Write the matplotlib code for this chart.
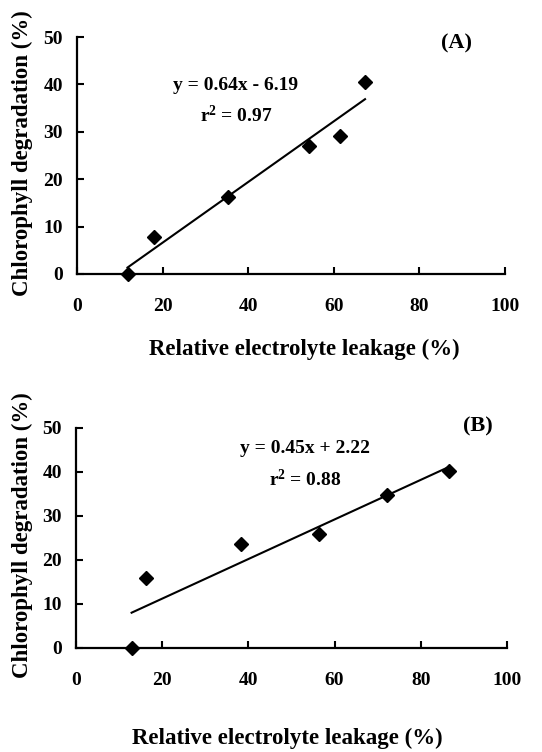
import matplotlib
matplotlib.use("Agg")
import matplotlib.pyplot as plt
import numpy as np

plt.rcParams['font.family'] = ['Liberation Serif', 'DejaVu Serif']
plt.rcParams['font.weight'] = 'bold'
plt.rcParams['mathtext.fontset'] = 'custom'
plt.rcParams['mathtext.rm'] = 'Liberation Serif:bold'
plt.rcParams['mathtext.bf'] = 'Liberation Serif:bold'
plt.rcParams['mathtext.it'] = 'Liberation Serif:bold'

# Panel A data
xa = [11.8, 18.1, 35.2, 54.3, 61.4, 67.3]
ya = [0.0, 7.8, 16.3, 27.0, 29.2, 40.6]
slope_a, icpt_a = 0.64, -6.19
eq_a = "y = 0.64x - 6.19"
r2_a = "r$^{\\mathbf{2}}$ = 0.97"

# Panel B data
xb = [12.9, 16.2, 38.2, 56.4, 72.1, 86.6]
yb = [0.0, 15.8, 23.6, 26.0, 34.8, 40.3]
slope_b, icpt_b = 0.45, 2.22
eq_b = "y = 0.45x + 2.22"
r2_b = "r$^{\\mathbf{2}}$ = 0.88"

xticks = [0, 20, 40, 60, 80, 100]
yticks = [0, 10, 20, 30, 40, 50]
xlabel = "Relative electrolyte leakage (%)"
ylabel = "Chlorophyll degradation (%)"

W, H = 542, 752
fig = plt.figure(figsize=(W / 100, H / 100), dpi=100)

def px_axes(l, r, t, b):
    return fig.add_axes([l / W, 1 - b / H, (r - l) / W, (b - t) / H])

def style(ax):
    ax.set_xlim(0, 100)
    ax.set_ylim(0, 50)
    ax.set_xticks(xticks)
    ax.set_yticks(yticks)
    for s in ['top', 'right']:
        ax.spines[s].set_visible(False)
    for s in ['left', 'bottom']:
        ax.spines[s].set_linewidth(1.6)
    ax.tick_params(axis='both', direction='in', length=5, width=1.5, labelsize=14)
    ax.tick_params(axis='x', pad=17)
    ax.tick_params(axis='y', pad=10)
    for lab in ax.get_xticklabels() + ax.get_yticklabels():
        lab.set_fontweight('bold')
    ax.patch.set_alpha(0)

def panel(ax, x, y, slope, icpt):
    x = np.array(x)
    xl = np.array([x.min(), x.max()])
    ax.plot(xl, slope * xl + icpt, color='black', lw=1.5, zorder=2, clip_on=False)
    ax.plot(x, y, linestyle='none', marker='D', ms=7, color='black', zorder=3, clip_on=False)

axA = px_axes(77, 505, 37, 274)
style(axA)
panel(axA, xa, ya, slope_a, icpt_a)

axB = px_axes(76, 507, 428, 648)
style(axB)
panel(axB, xb, yb, slope_b, icpt_b)

fs = 14
fig.text(236 / W, 1 - 85 / H, eq_a, ha='center', va='center', fontsize=fs, fontweight='bold')
fig.text(236 / W, 1 - 115 / H, r2_a, ha='center', va='center', fontsize=fs, fontweight='bold')
fig.text(457 / W, 1 - 43 / H, "(A)", ha='center', va='center', fontsize=16, fontweight='bold')

fig.text(305 / W, 1 - 449 / H, eq_b, ha='center', va='center', fontsize=fs, fontweight='bold')
fig.text(305 / W, 1 - 479 / H, r2_b, ha='center', va='center', fontsize=fs, fontweight='bold')
fig.text(478 / W, 1 - 426 / H, "(B)", ha='center', va='center', fontsize=16, fontweight='bold')

lfs = 16.5
fig.text(304 / W, 1 - 349 / H, xlabel, ha='center', va='center', fontsize=lfs, fontweight='bold')
fig.text(287 / W, 1 - 738 / H, xlabel, ha='center', va='center', fontsize=lfs, fontweight='bold')
fig.text(22 / W, 1 - 153 / H, ylabel, ha='center', va='center', rotation=90, fontsize=lfs, fontweight='bold')
fig.text(22 / W, 1 - 535 / H, ylabel, ha='center', va='center', rotation=90, fontsize=lfs, fontweight='bold')

fig.savefig("out.png", dpi=100)
